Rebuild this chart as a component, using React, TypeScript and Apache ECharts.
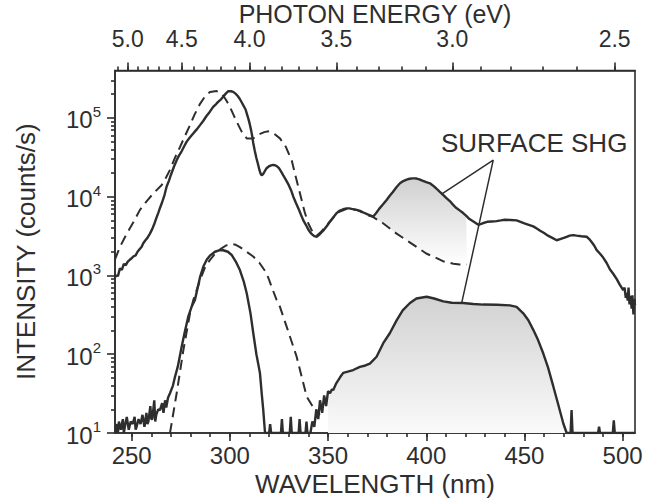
import React, { useEffect, useRef } from "react";
import * as echarts from "echarts";

const HC = 1239.84;
const X_MIN = 241.5;
const X_MAX = 506.3;
const Y_MIN = 10;
const Y_MAX = 4.0e5;
const FONT = "'Liberation Sans', Arial, Helvetica, sans-serif";
const INK = "#2e2e2e";

const WL_LABELS = [250, 300, 350, 400, 450, 500];
const WL_MINOR = [250, 260, 270, 280, 290, 300, 310, 320, 330, 340, 350, 360, 370, 380, 390, 400, 410, 420, 430, 440, 450, 460, 470, 480, 490, 500];
const EV_LABELS = [5.0, 4.5, 4.0, 3.5, 3.0, 2.5];
const EV_MINOR = [5.1, 5.0, 4.9, 4.8, 4.7, 4.6, 4.5, 4.4, 4.3, 4.2, 4.1, 4.0, 3.9, 3.8, 3.7, 3.6, 3.5, 3.4, 3.3, 3.2, 3.1, 3.0, 2.9, 2.8, 2.7, 2.6, 2.5];
const Y_DECADES = [10, 100, 1000, 10000, 100000];
const Y_MINOR = [20, 30, 40, 50, 60, 70, 80, 90, 200, 300, 400, 500, 600, 700, 800, 900, 2000, 3000, 4000, 5000, 6000, 7000, 8000, 9000, 20000, 30000, 40000, 50000, 60000, 70000, 80000, 90000, 200000, 300000];

// Upper curves (bulk + surface, solid) and bulk only (dashed)
const UPPER_SOLID: number[][] = [
  [241.5, 950], [242.3, 1010], [243, 980], [244, 1230], [245, 1180], [246, 1400], [247, 1350], [248, 1500], [249, 1580], [250, 1650],
  [250.8, 1740], [252, 1800], [253, 2000], [254, 2150], [255, 2300], [255.9, 2570], [257, 2800], [258, 3000], [259.3, 3400], [260.5, 3900],
  [261.5, 4500], [262.5, 5300], [263.5, 6200], [264.5, 7300], [265.5, 8500], [266.7, 10500], [267.8, 13500], [269, 16000], [270, 19000],
  [271.5, 24000], [272.9, 29000], [274, 33000], [275.5, 38000], [276.8, 44000], [278, 50000], [279.5, 56000], [281, 62000], [283, 71000],
  [284.8, 81000], [286.5, 92000], [288, 105000], [289.8, 120000], [291.5, 138000], [293, 150000], [294, 160000], [295.5, 172000],
  [296.6, 186000], [298, 205000], [299.2, 219000], [300.5, 218000], [301.7, 214000], [303, 202000], [304, 190000], [305, 175000],
  [306, 158000], [307, 142000], [308, 128000], [308.7, 112000], [309.4, 98000], [310.1, 84000], [310.8, 70000], [311.4, 58000],
  [311.9, 48000], [312.7, 38000], [313.5, 31000], [314.3, 26000], [315, 22000], [315.6, 19800], [316.2, 18600], [316.9, 19300],
  [317.5, 20500], [318.1, 21800], [318.7, 23000], [319.8, 24200], [321, 25000], [322, 25300], [323, 25100], [324, 24300], [325, 23000],
  [326.1, 20800], [327.2, 18600], [328.6, 16200], [330, 14000], [331.2, 12000], [332.3, 10000], [333.6, 8400], [335, 7000], [336.2, 5900],
  [337.4, 5000], [338.7, 4400], [340, 3800], [341, 3500], [342, 3300], [343.1, 3150], [344.2, 3100], [345.3, 3250], [346.5, 3500],
  [347.9, 3800], [349.3, 4200], [350.6, 4700], [352, 5200], [353.2, 5700], [354.4, 6200], [355.7, 6600], [357, 6800], [358.2, 7000],
  [359.5, 7100], [360.8, 7100], [362, 7000], [363.3, 6900], [364.6, 6800], [366.3, 6600], [368, 6300], [369.3, 6100], [370.5, 5900],
  [371.8, 5750], [373, 5600], [374.5, 6200], [376, 7000], [378, 8000], [379.8, 9100], [381.4, 10300], [383, 11500], [384.8, 13200],
  [386.6, 14800], [388.3, 15800], [390, 16500], [391.5, 16900], [393, 17100], [394.1, 17100], [395.1, 17000], [396.5, 16600],
  [398, 16000], [400, 15300], [401.9, 14800], [403.5, 13800], [405, 12800], [406.8, 11600], [408.7, 10500], [410.3, 9600], [412, 8800],
  [413.5, 8000], [415, 7300], [417, 6700], [418.8, 6200], [420.4, 5700], [422, 5200], [424.2, 4800], [426.5, 4400], [428.7, 4600],
  [431, 4800], [433.4, 4850], [435.8, 4900], [438, 5000], [440, 5100], [443, 5050], [446, 5000], [448, 4800], [450, 4600], [452.2, 4400],
  [454.5, 4200], [456.3, 3950], [458, 3700], [460, 3450], [462, 3200], [464.2, 3000], [466.4, 2800], [468.2, 2900], [470, 3000],
  [471.5, 3100], [473, 3200], [474.8, 3250], [476.6, 3200], [479, 3150], [481.7, 3100], [483, 2900], [484, 2700], [485.5, 2400],
  [486.8, 2100], [488.4, 1900], [490, 1700], [491.8, 1450], [493.5, 1200], [495.2, 1050], [497, 900], [498.6, 760], [500.3, 650],
  [501, 700], [501.6, 520], [502, 600], [502.6, 480], [503, 700], [503.5, 430], [504, 550], [504.6, 380], [505, 560], [505.5, 320],
  [506, 500], [506.3, 420],
];

const UPPER_DASHED: number[][] = [
  [241.5, 1600], [244, 2300], [247.5, 3400], [251, 4800], [254.2, 6800], [258, 9000], [261, 11000], [265.3, 14100], [267.5, 17500],
  [269.5, 21900], [272, 31000], [274.6, 42700], [277, 58000], [279.7, 81000], [282, 110000], [284.8, 151000], [287.5, 190000],
  [289.9, 214000], [293.3, 219000], [295.8, 204000], [298, 170000], [300, 138000], [301.8, 110000], [303.5, 89000], [306, 67000],
  [308.6, 55000], [311.9, 55000], [315, 62000], [317.5, 66000], [319.6, 67600], [322.5, 63000], [325.5, 55000], [328.5, 43000],
  [331.5, 28800], [333.5, 18000], [335.7, 11000], [338, 6500], [339.9, 4600], [342, 3600], [344.2, 3200], [346.5, 3600], [349.3, 4300],
  [352.6, 5400], [355, 6300], [359.5, 7000], [364.6, 6800], [368, 6200], [370.5, 5800], [373, 5500], [378, 4600], [384.9, 3400],
  [390, 2800], [395.1, 2300], [400, 1900], [405.3, 1660], [409, 1500], [413.8, 1410], [417, 1380], [420.6, 1380],
];

// Lower curves
const LOWER_SOLID: number[][] = [
  [241.8, 10], [242.5, 13], [243, 10], [243.5, 14], [244.5, 11], [245.5, 15], [246, 10], [246.5, 12], [247.5, 16], [248.5, 11],
  [249.5, 14], [250.5, 13], [251.5, 16], [252, 11], [252.5, 12], [253.5, 15], [254.5, 13], [255.5, 17], [256.5, 12], [257.5, 18],
  [258, 13], [258.5, 14], [259.5, 22], [260, 15], [260.5, 15], [261.5, 26], [262, 14], [262.5, 17], [263.5, 20], [264.4, 19.5],
  [265.5, 24], [266.2, 18], [267, 26], [267.6, 21], [268.5, 28], [269.5, 32], [271, 40], [272, 51], [273.5, 70], [275.5, 126],
  [277, 190], [278.8, 300], [280.5, 400], [282.2, 490], [284.8, 950], [286.5, 1300], [288.2, 1580], [290, 1800], [292.4, 2000],
  [294.5, 2080], [296.6, 2090], [299, 2000], [300.9, 1820], [303, 1500], [305.1, 1170], [307, 850], [308.6, 590], [310.5, 330],
  [311.9, 186], [313.5, 100], [315.3, 58], [316.3, 30], [317, 19.5], [317.9, 10], [320, 10], [320.5, 13], [321, 10], [326, 10],
  [326.5, 15], [327, 10], [330.5, 10], [331, 16], [331.5, 10], [335, 10], [335.5, 15], [336, 10], [338.5, 10], [339, 14], [339.5, 10],
  [341, 10], [342, 14], [343, 12], [344, 20], [345, 15], [345.9, 26], [347, 18], [348, 30], [349, 22], [350, 34], [351, 32],
  [352, 36], [352.6, 35], [354, 42], [356.1, 51], [357.7, 58], [360, 60], [362.8, 63], [366.2, 69], [369, 72], [371.3, 76],
  [374.7, 93], [378.1, 138], [381.5, 186], [384.9, 269], [388, 360], [391.7, 447], [395, 510], [400.2, 537], [404, 510], [408.7, 468],
  [413, 450], [418.8, 447], [424, 435], [429, 427], [436, 425], [442.6, 417], [446, 400], [449.4, 331], [452, 270], [454.5, 204],
  [457, 150], [459.6, 102], [462, 68], [464.7, 39], [467, 24], [469.8, 13.2], [471.5, 10], [473.5, 10], [474, 19.5], [474.5, 10],
  [487.5, 10], [488, 12], [488.5, 10], [495, 10], [495.5, 14.5], [496, 10], [506.3, 10],
];

const LOWER_DASHED: number[][] = [
  [269.5, 10], [272.9, 32], [276.3, 112], [279.7, 331], [281.4, 490], [284.8, 870], [287.5, 1300], [289.9, 1580], [292.5, 1900],
  [295, 2140], [298, 2400], [300.9, 2510], [303, 2450], [305.1, 2290], [308.5, 2000], [311.9, 1740], [315, 1450], [318.7, 1070],
  [322, 640], [323.8, 490], [325.5, 400], [328.9, 224], [334, 93], [339.1, 29], [343.3, 19.5], [345.9, 17],
];

// annotation "SURFACE SHG" pointer lines (data coordinates)
const POINTER_APEX = [434.1, 29100];
const POINTER_UPPER = [407.8, 10800];
const POINTER_LOWER = [418.0, 443];
const LABEL_TEXT = "SURFACE SHG";

const UPPER_FILL_FROM = 373;
const UPPER_FILL_TO = 420.6;
const LOWER_FILL_FROM = 350;
const LOWER_FILL_TO = 471.5;

function buildUpperFill(): number[][] {
  const top = UPPER_SOLID.filter((p) => p[0] >= UPPER_FILL_FROM && p[0] <= UPPER_FILL_TO);
  const bot = UPPER_DASHED.filter((p) => p[0] >= UPPER_FILL_FROM && p[0] <= UPPER_FILL_TO).slice().reverse();
  return [...top, ...bot];
}
function buildLowerFill(): number[][] {
  const top = LOWER_SOLID.filter((p) => p[0] >= LOWER_FILL_FROM && p[0] <= LOWER_FILL_TO);
  return [...top, [LOWER_FILL_TO, Y_MIN], [LOWER_FILL_FROM, Y_MIN]];
}

export default function App() {
  const ref = useRef<HTMLDivElement>(null);
  useEffect(() => {
    if (!ref.current) return;
    const chart = echarts.init(ref.current, undefined, { renderer: "svg" });
    const upperFill = buildUpperFill();
    const lowerFill = buildLowerFill();
    const axisLineStyle = { color: INK, width: 1.6 };
    const labelStyle = { color: INK, fontSize: 24, fontFamily: FONT };
    const nameStyle = { color: INK, fontSize: 26, fontFamily: FONT };

    const fillSeries = (pts: number[][], c0: string, c1: string) => ({
      type: "custom",
      xAxisIndex: 0,
      yAxisIndex: 0,
      silent: true,
      z: 1,
      data: [[400, 1000]],
      renderItem: (_p: any, api: any) => ({
        type: "polygon",
        shape: { points: pts.map((p) => api.coord(p)) },
        style: {
          fill: new echarts.graphic.LinearGradient(0, 0, 0, 1, [
            { offset: 0, color: c0 },
            { offset: 1, color: c1 },
          ]),
        },
      }),
    });

    const lineSeries = (data: number[][], dashed: boolean, width: number) => ({
      type: "line",
      xAxisIndex: 0,
      yAxisIndex: 0,
      data,
      symbol: "none",
      showSymbol: false,
      z: 3,
      silent: true,
      lineStyle: { color: INK, width, type: dashed ? [10, 6] : "solid" },
    });

    chart.setOption({
      animation: false,
      backgroundColor: "#ffffff",
      grid: {
        left: 115, right: 32, top: 70.5, bottom: 70, show: true, borderColor: INK, borderWidth: 1.6,
        backgroundColor: "transparent", containLabel: false, outerBoundsMode: "none",
      },
      xAxis: [
        {
          type: "value", position: "bottom", min: X_MIN, max: X_MAX,
          axisLine: { show: true, onZero: false, lineStyle: axisLineStyle },
          axisTick: { show: true, length: 8, customValues: WL_LABELS, lineStyle: axisLineStyle },
          axisLabel: { show: true, customValues: WL_LABELS, margin: 10, ...labelStyle },
          splitLine: { show: false },
          name: "WAVELENGTH (nm)", nameLocation: "middle", nameGap: 38, nameMoveOverlap: false, nameTextStyle: nameStyle,
        },
        {
          type: "value", position: "bottom", min: X_MIN, max: X_MAX,
          axisLine: { show: false, onZero: false },
          axisTick: { show: true, length: 4, customValues: WL_MINOR, lineStyle: axisLineStyle },
          axisLabel: { show: false },
          splitLine: { show: false },
        },
        {
          type: "value", position: "top", min: X_MIN, max: X_MAX,
          axisLine: { show: true, onZero: false, lineStyle: axisLineStyle },
          axisTick: { show: true, length: 8, customValues: EV_LABELS.map((e) => HC / e), lineStyle: axisLineStyle },
          axisLabel: {
            show: true, customValues: EV_LABELS.map((e) => HC / e), margin: 23, lineHeight: 18,
            formatter: (v: number) => (HC / v).toFixed(1), ...labelStyle, fontSize: 23,
          },
          splitLine: { show: false },
          name: "PHOTON ENERGY (eV)", nameLocation: "middle", nameGap: 47, nameMoveOverlap: false,
          nameTextStyle: { ...nameStyle, fontSize: 25, lineHeight: 20 },
        },
        {
          type: "value", position: "top", min: X_MIN, max: X_MAX,
          axisLine: { show: false, onZero: false },
          axisTick: { show: true, length: 4, customValues: EV_MINOR.map((e) => HC / e), lineStyle: axisLineStyle },
          axisLabel: { show: false },
          splitLine: { show: false },
        },
      ],
      yAxis: [
        {
          type: "log", logBase: 10, position: "left", min: Y_MIN, max: Y_MAX,
          axisLine: { show: true, onZero: false, lineStyle: axisLineStyle },
          axisTick: { show: true, length: 8, customValues: Y_DECADES, lineStyle: axisLineStyle },
          axisLabel: {
            show: true, customValues: Y_DECADES, margin: 14,
            formatter: (v: number) => `{b|10}{s|${Math.round(Math.log10(v))}}`,
            rich: {
              b: { fontSize: 24, fontFamily: FONT, color: INK, lineHeight: 28, verticalAlign: "bottom" },
              s: { fontSize: 15, fontFamily: FONT, color: INK, lineHeight: 15, verticalAlign: "top" },
            },
          },
          splitLine: { show: false },
          name: "INTENSITY (counts/s)", nameLocation: "middle", nameGap: 76, nameRotate: 90, nameMoveOverlap: false, nameTextStyle: nameStyle,
        },
        {
          type: "log", logBase: 10, position: "left", min: Y_MIN, max: Y_MAX,
          axisLine: { show: false, onZero: false },
          axisTick: { show: true, length: 4, customValues: Y_MINOR, lineStyle: axisLineStyle },
          axisLabel: { show: false },
          splitLine: { show: false },
        },
      ],
      series: [
        fillSeries(upperFill, "#d0d0d0", "#ffffff"),
        fillSeries(lowerFill, "#d2d2d2", "#fafafa"),
        lineSeries(UPPER_SOLID, false, 2.4),
        lineSeries(UPPER_DASHED, true, 2),
        lineSeries(LOWER_SOLID, false, 2.4),
        lineSeries(LOWER_DASHED, true, 2),
        {
          type: "line", xAxisIndex: 0, yAxisIndex: 0, symbol: "none", silent: true, z: 4,
          data: [POINTER_UPPER, POINTER_APEX, POINTER_LOWER],
          lineStyle: { color: INK, width: 1.5 },
        },
      ],
      graphic: [
        {
          type: "text", left: 441, top: 130, silent: true,
          style: { text: LABEL_TEXT, font: `26px ${FONT}`, fill: INK },
        },
      ],
    });
    return () => chart.dispose();
  }, []);
  return <div ref={ref} style={{ position: "absolute", left: 0, top: 0, width: 667, height: 503, background: "#fff" }} />;
}
